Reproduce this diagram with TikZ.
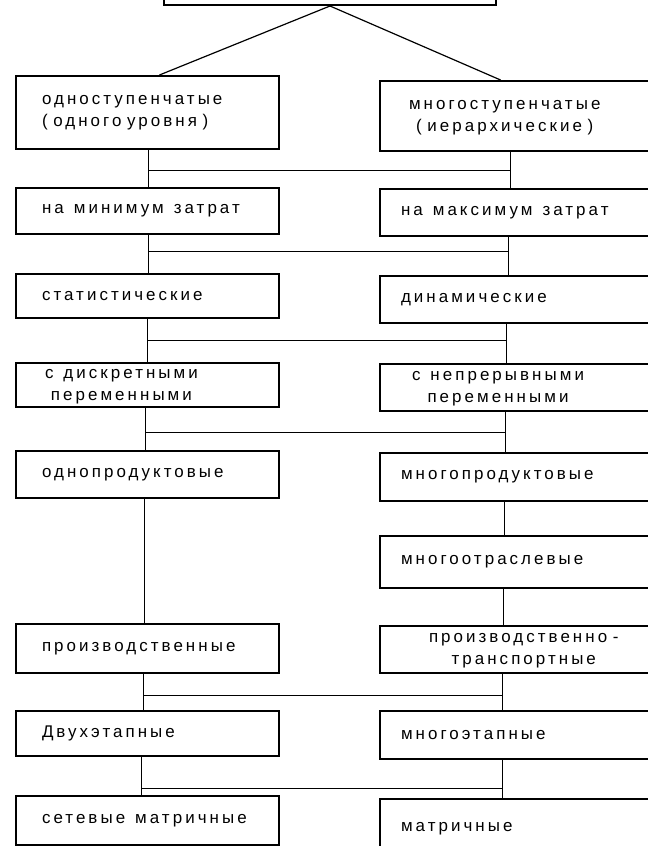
\documentclass[tikz,border=0pt]{standalone}
\usepackage{fontspec}
\newfontfamily\boxfont[LetterSpace=18]{Liberation Sans}
\usetikzlibrary{calc}
\newcommand\boxtext{\boxfont\fontsize{17}{22}\selectfont}
\newcommand\sk{\hspace{10bp}}
\newcommand\twolines[2]{\begin{tabular}{@{}c@{}}#1\\#2\end{tabular}}

\begin{document}
\begin{tikzpicture}[x=1bp,y=-1bp,
  box/.style={draw,line width=2bp,anchor=north west,inner ysep=0pt,align=left,
    font=\boxtext},
  lbox/.style={box,inner xsep=26bp,text width=211bp},
  rbox/.style={box,inner xsep=21bp,text width=248bp},
  link/.style={line width=1.2bp}]
\useasboundingbox (0,0) rectangle (648,846);
\clip (0,0) rectangle (648,846);

% top box, cut by the page edge
\node[box,minimum width=332bp,minimum height=60bp,anchor=south west] (T) at (163,6) {};

% left column
\node[lbox,minimum height=73bp] (L1) at (15,75) {одноступенчатые\\( одного уровня )};
\node[lbox,minimum height=46bp] (L2) at (15,187) {на\sk минимум\sk затрат};
\node[lbox,minimum height=44bp] (L3) at (15,273) {статистические};
\node[lbox,minimum height=43bp] (L4) at (15,362) {\hspace*{3bp}\twolines{с\sk дискретными}{переменными}};
\node[lbox,minimum height=47bp] (L5) at (15,450) {однопродуктовые};
\node[lbox,minimum height=49bp] (L7) at (15,623) {производственные};
\node[lbox,minimum height=45bp] (L8) at (15,710) {Двухэтапные};
\node[lbox,minimum height=49bp] (L9) at (15,795) {сетевые\sk матричные};

% right column, cut by the page edge
\node[rbox,minimum height=70bp] (R1) at (379,80) {\hspace*{8bp}\twolines{многоступенчатые}{( иерархические )}};
\node[rbox,minimum height=47bp] (R2) at (379,188) {на\sk максимум\sk затрат};
\node[rbox,minimum height=47bp] (R3) at (379,275) {динамические};
\node[rbox,minimum height=47bp] (R4) at (379,363) {\hspace*{11bp}\twolines{с\sk непрерывными}{переменными}};
\node[rbox,minimum height=48bp] (R5) at (379,452) {многопродуктовые};
\node[rbox,minimum height=52bp] (R6) at (379,535) {многоотраслевые};
\node[rbox,minimum height=47bp] (R7) at (379,625) {\hspace*{28bp}\twolines{производственно -}{транспортные}};
\node[rbox,minimum height=48bp] (R8) at (379,710) {многоэтапные};
\node[rbox,minimum height=60bp] (R9) at (379,798) {матричные};

\draw[link] (T.south) -- ([xshift=12]L1.north);
\draw[link] (T.south) -- ([xshift=122]R1.north west);

\draw[link] ([xshift=1]L1.south) -- coordinate[pos=.56] (a1) ([xshift=1]L2.north);
\draw[link] ([xshift=132]R1.south west) -- coordinate (b1) ([xshift=132]R2.north west);
\draw[link] (a1) -- (a1 -| b1);

\draw[link] ([xshift=1]L2.south) -- coordinate[pos=.43] (a2) ([xshift=1]L3.north);
\draw[link] ([xshift=130]R2.south west) -- coordinate (b2) ([xshift=130]R3.north west);
\draw[link] (a2) -- (a2 -| b2);

\draw[link] (L3.south) -- coordinate[pos=.5] (a3) (L4.north);
\draw[link] ([xshift=128]R3.south west) -- coordinate (b3) ([xshift=128]R4.north west);
\draw[link] (a3) -- (a3 -| b3);

\draw[link] ([xshift=-2]L4.south) -- coordinate[pos=.58] (a4) ([xshift=-2]L5.north);
\draw[link] ([xshift=127]R4.south west) -- coordinate (b4) ([xshift=127]R5.north west);
\draw[link] (a4) -- (a4 -| b4);

\draw[link] ([xshift=-3]L5.south) -- ([xshift=-3]L7.north);
\draw[link] ([xshift=126]R5.south west) -- ([xshift=126]R6.north west);
\draw[link] ([xshift=125]R6.south west) -- ([xshift=125]R7.north west);

\draw[link] ([xshift=-4]L7.south) -- coordinate[pos=.6] (a7) ([xshift=-4]L8.north);
\draw[link] ([xshift=124]R7.south west) -- coordinate (b7) ([xshift=124]R8.north west);
\draw[link] (a7) -- (a7 -| b7);

\draw[link] ([xshift=-6]L8.south) -- coordinate[pos=.82] (a8) ([xshift=-6]L9.north);
\draw[link] ([xshift=124]R8.south west) -- coordinate (b8) ([xshift=124]R9.north west);
\draw[link] (a8) -- (a8 -| b8);
\end{tikzpicture}
\end{document}
